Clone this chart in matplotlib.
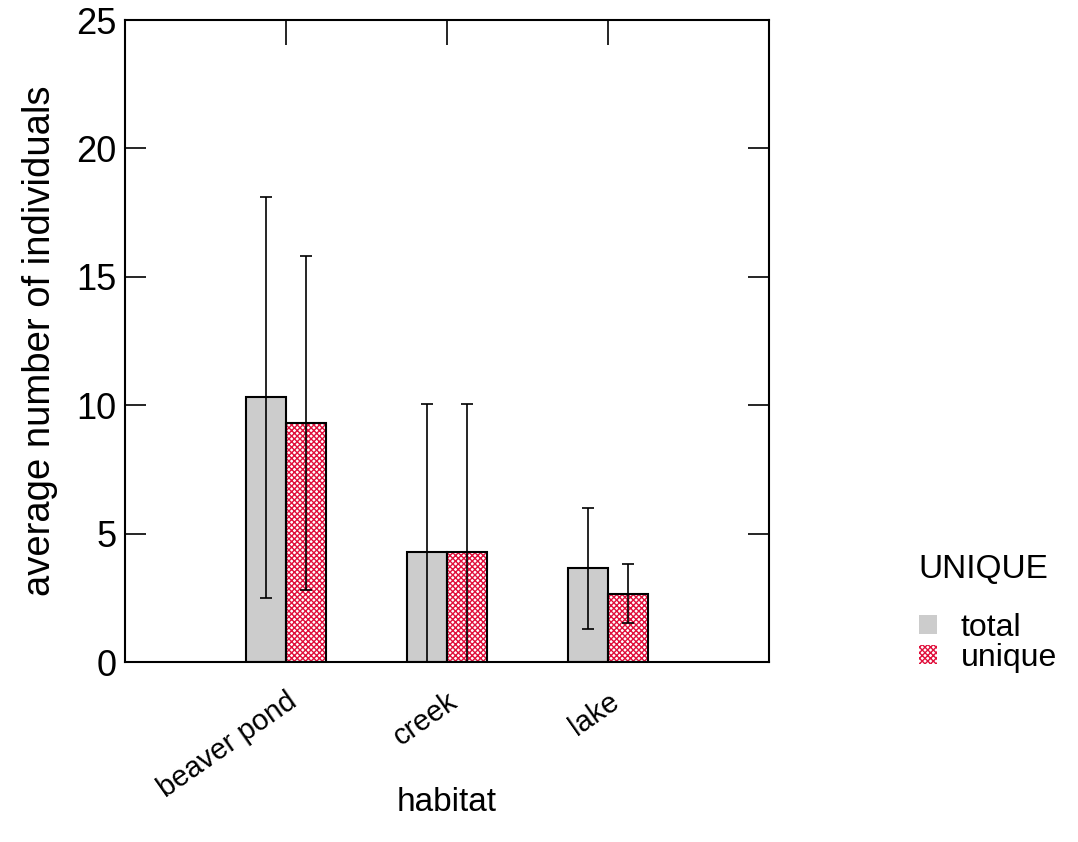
import matplotlib
matplotlib.use("Agg")
import matplotlib.pyplot as plt
from matplotlib.patches import Patch
import numpy as np

plt.rcParams['font.family'] = ['Liberation Sans', 'DejaVu Sans']
plt.rcParams['hatch.linewidth'] = 1.0

habitats = ["beaver pond", "creek", "lake"]
series = ["total", "unique"]
total_mean = [10.3, 4.3, 3.65]
total_err = [7.8, 5.75, 2.35]
unique_mean = [9.3, 4.3, 2.65]
unique_err = [6.5, 5.75, 1.15]

fig = plt.figure(figsize=(10.78, 8.42), dpi=100)
ax = fig.add_axes([125/1078, 1-662/842, 644/1078, 642/842])

x = np.arange(1, len(habitats) + 1)
w = 0.25
grey = "#cccccc"
red = "#e0103c"

ax.bar(x - w/2, total_mean, width=w, color=grey, edgecolor="black", linewidth=1.5, zorder=2)
ax.bar(x + w/2, unique_mean, width=w, color="white", edgecolor=red, hatch="xxxxxx", linewidth=0, zorder=2)
ax.bar(x + w/2, unique_mean, width=w, fill=False, edgecolor="black", linewidth=1.5, zorder=3)

ax.errorbar(x - w/2, total_mean, yerr=total_err, fmt="none", ecolor="black", elinewidth=1.2, capsize=4.5, capthick=1.2, zorder=4)
ax.errorbar(x + w/2, unique_mean, yerr=unique_err, fmt="none", ecolor="black", elinewidth=1.2, capsize=4.5, capthick=1.2, zorder=4)

ax.set_xlim(0, 4)
ax.set_ylim(0, 25)
ax.set_yticks([0, 5, 10, 15, 20, 25])
ax.set_xticks(x)
ax.set_xticklabels(habitats, rotation=35, ha="right", rotation_mode="anchor", fontsize=21)
ax.tick_params(axis="x", which="both", bottom=False, top=True, direction="in", length=18, width=1.2, pad=18)
ax.tick_params(axis="y", which="both", left=True, right=True, direction="in", length=15, width=1.2, labelsize=26, pad=6)
for s in ax.spines.values():
    s.set_linewidth(1.5)

ax.set_xlabel("habitat", fontsize=24)
ax.xaxis.set_label_coords(0.5, (662 - 787) / 642)
ax.set_ylabel("average number of individuals", fontsize=27.5, labelpad=13)

handles = [Patch(facecolor=grey, edgecolor="none", label="total"),
           Patch(facecolor="white", edgecolor=red, hatch="xxxxxx", linewidth=0, label="unique")]
leg = fig.legend(handles=handles, title="UNIQUE", loc="upper left", bbox_to_anchor=(890/1078, 1-525/842),
                 frameon=False, fontsize=23, title_fontsize=24, handlelength=0.56, handleheight=0.56,
                 handletextpad=0.75, labelspacing=0.0)
leg._legend_box.align = "left"
leg._legend_box.sep = 20

fig.savefig("out.png", dpi=100)
